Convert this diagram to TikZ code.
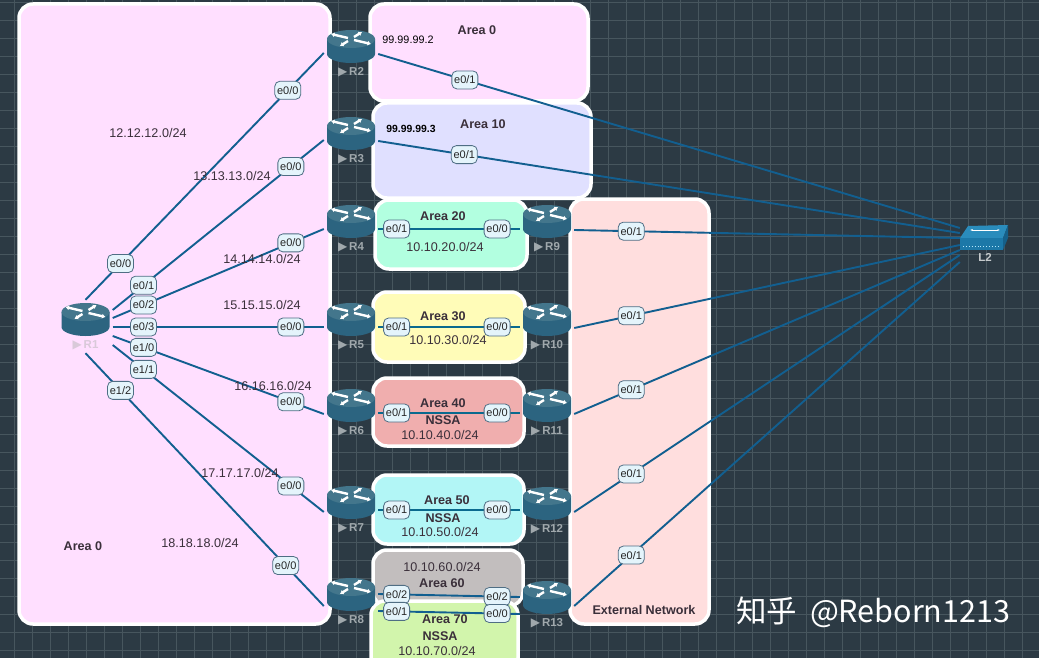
\documentclass[tikz,border=0pt]{standalone}
\usepackage{fontspec}
\setmainfont{Liberation Sans}
\newfontfamily\symfont{DejaVu Sans}
\newfontfamily\cjkfont{Noto Sans CJK SC}
\usetikzlibrary{arrows.meta}
\definecolor{bgc}{HTML}{2C3A44}
\definecolor{gridc}{HTML}{47565E}
\definecolor{linkc}{HTML}{125F90}
\definecolor{teal}{HTML}{0A6A8E}
\definecolor{pill}{HTML}{E4F4FB}
\definecolor{pilld}{HTML}{4F6E84}
\definecolor{rtop}{HTML}{43768C}
\definecolor{rbody}{HTML}{2C6480}
\definecolor{txt}{HTML}{3A2F3A}
\definecolor{rgrey}{HTML}{A0A8AC}
\definecolor{rlight}{HTML}{D9C9D9}
\definecolor{swtop}{HTML}{2A8CBC}
\definecolor{swfront}{HTML}{1C78A8}
\definecolor{swside}{HTML}{15608A}
\tikzset{
  area/.style={draw=white,line width=3.5pt,rounded corners=14pt},
  link/.style={draw=linkc,line width=1.9pt},
  tlink/.style={draw=teal,line width=2pt},
  pl/.style={draw=pilld,fill=pill,line width=0.8pt,rounded corners=5pt,inner sep=0pt,minimum width=26pt,minimum height=18pt,font=\fontsize{11}{12}\selectfont,text=black!85},
  net/.style={font=\fontsize{12.6}{14}\selectfont,text=txt,inner sep=0pt,yshift=-0.7pt},
  atitle/.style={font=\bfseries\fontsize{12.6}{14}\selectfont,text=txt,inner sep=0pt,yshift=-0.7pt},
  ipt/.style={font=\fontsize{10.8}{12}\selectfont,text=black,inner sep=0pt},
  rnode/.style={minimum width=54pt,minimum height=40pt,inner sep=0pt},
  rlab/.style={font=\bfseries\fontsize{11.5}{12}\selectfont,text=#1,inner sep=0pt},
  rarrow/.style={draw=white,line width=2.4pt,-{Latex[length=3.5pt,width=5pt]}},
  routerpic/.pic={
    \fill[rbody] (-24,-8) -- (-24,7) arc[start angle=180,end angle=0,x radius=24,y radius=9] -- (24,-8) -- cycle;
    \fill[rtop] (0,-8) ellipse[x radius=24,y radius=9];
    \draw[rarrow] (-3,-9) -- (-20,-13);
    \draw[rarrow] (3,-10) -- (11,-15);
    \draw[rarrow] (3,-7) -- (20,-3);
    \draw[rarrow] (-3,-6) -- (-11,-1);
  },
}
\newcommand{\routerat}[4]{% name, x, y, label colour
  \node[rnode] (#1) at (#2,#3) {};
  \pic at (#1) {routerpic};
  \node[rlab=#4] (#1L) at (#2,#3+25) {{\symfont\fontsize{12}{12}\selectfont ▶}\,#1};
}
\begin{document}
\begin{tikzpicture}[x=1pt,y=-1pt]
\useasboundingbox (0,0) rectangle (1039,658);
\clip (0,0) rectangle (1039,658);
\fill[bgc] (0,0) rectangle (1039,658);
\foreach \g in {14.7,32.7,...,1039} \draw[gridc,line width=0.6pt] (\g,0) -- (\g,658);
\foreach \g in {2,20,...,658} \draw[gridc,line width=0.6pt] (0,\g) -- (1039,\g);
% areas
\draw[area,fill={rgb,255:red,255;green,223;blue,255}] (19,4) rectangle (330,624);
\draw[area,fill={rgb,255:red,255;green,223;blue,255}] (370,4) rectangle (588,101);
\draw[area,fill={rgb,255:red,224;green,224;blue,255}] (373,103) rectangle (591,198);
\draw[area,fill={rgb,255:red,178;green,255;blue,224}] (375,200) rectangle (527,269);
\draw[area,fill={rgb,255:red,255;green,252;blue,184}] (373,292) rectangle (525,362);
\draw[area,fill={rgb,255:red,240;green,174;blue,174}] (373,378) rectangle (524,446);
\draw[area,fill={rgb,255:red,178;green,246;blue,246}] (373,475) rectangle (524,544);
\draw[area,fill={rgb,255:red,194;green,190;blue,190}] (373,550) rectangle (523,606);
\draw[area,fill={rgb,255:red,210;green,245;blue,172}] (371,601) rectangle (518,672);
\draw[area,fill={rgb,255:red,255;green,222;blue,222}] (570,199) rectangle (709,624);
% routers
\routerat{R1}{85.5}{320}{rlight}
\routerat{R2}{351}{47}{rgrey}
\routerat{R3}{351}{134}{rgrey}
\routerat{R4}{351}{222}{rgrey}
\routerat{R5}{351}{320}{rgrey}
\routerat{R6}{351}{406}{rgrey}
\routerat{R7}{351}{503}{rgrey}
\routerat{R8}{351}{595}{rgrey}
\routerat{R9}{547}{222}{rgrey}
\routerat{R10}{547}{320}{rgrey}
\routerat{R11}{547}{406}{rgrey}
\routerat{R12}{547}{504}{rgrey}
\routerat{R13}{547}{598}{rgrey}
% switch
\node[minimum width=48pt,minimum height=26pt,inner sep=0pt] (L2) at (984,238) {};
\fill[swtop] (968,226) -- (1008,225) -- (1003,238) -- (960,238) -- cycle;
\fill[swfront] (960,238) rectangle (1003,250);
\fill[swside] (1003,238) -- (1008,225) -- (1008,238) -- (1003,250) -- cycle;
\draw[white,line width=1pt,{Latex[length=2.5pt]}-{Latex[length=2.5pt]}] (970,230) -- (1000,230);
\draw[white!70!cyan,line width=0.9pt,dotted] (963,246) -- (998,246);
\node[font=\fontsize{11.5}{12}\selectfont\bfseries,text=rgrey!60!white,inner sep=0pt] (L2L) at (985,257) {L2};
% links from R1
\draw[link] (R1.north) -- node[pos=.147,pl]{e0/0} node[pos=.849,pl]{e0/0} ([yshift=-6pt]R2.west);
\draw[link] ([yshift=10pt]R1.east) -- node[pos=.146,pl]{e0/1} node[pos=.844,pl]{e0/0} ([yshift=-6pt]R3.west);
\draw[link] ([yshift=2pt]R1.east) -- node[pos=.146,pl]{e0/2} node[pos=.844,pl]{e0/0} ([yshift=-7pt]R4.west);
\draw[link] ([yshift=-7pt]R1.east) -- node[pos=.146,pl]{e0/3} node[pos=.844,pl]{e0/0} ([yshift=-7pt]R5.west);
\draw[link] ([yshift=-16pt]R1.east) -- node[pos=.146,pl]{e1/0} node[pos=.844,pl]{e0/0} ([yshift=-8pt]R6.west);
\draw[link] ([yshift=-25pt]R1.east) -- node[pos=.146,pl]{e1/1} node[pos=.844,pl]{e0/0} ([yshift=-9pt]R7.west);
\draw[link] ([yshift=-13pt]R1.south) -- node[pos=.147,pl]{e1/2} node[pos=.84,pl]{e0/0} ([yshift=-11pt]R8.west);
% links to L2
\draw[link] ([yshift=-7pt]R2.east) -- node[pos=.149,pl]{e0/1} ([yshift=10pt]L2.west);
\draw[link] ([yshift=-7pt]R3.east) -- node[pos=.148,pl]{e0/1} ([yshift=5pt]L2.west);
\draw[link] ([yshift=-8pt]R9.east) -- node[pos=.148,pl]{e0/1} (L2.west);
\draw[link] ([yshift=-8pt]R10.east) -- node[pos=.148,pl]{e0/1} ([yshift=-7pt]L2.west);
\draw[link] ([yshift=-8pt]R11.east) -- node[pos=.148,pl]{e0/1} ([yshift=-12pt]L2.west);
\draw[link] ([yshift=-8pt]R12.east) -- node[pos=.148,pl]{e0/1} ([yshift=-17pt]L2.west);
\draw[link] ([yshift=-8pt]R13.east) -- node[pos=.148,pl]{e0/1} ([yshift=-24pt]L2.west);
% links across areas
\draw[tlink] ([yshift=-7pt]R4.east) -- node[pos=.13,pl]{e0/1} node[pos=.84,pl]{e0/0} ([yshift=-7pt]R9.west);
\draw[tlink] ([yshift=-7pt]R5.east) -- node[pos=.13,pl]{e0/1} node[pos=.84,pl]{e0/0} ([yshift=-7pt]R10.west);
\draw[tlink] ([yshift=-7pt]R6.east) -- node[pos=.13,pl]{e0/1} node[pos=.84,pl]{e0/0} ([yshift=-7pt]R11.west);
\draw[tlink] ([yshift=-7pt]R7.east) -- node[pos=.13,pl]{e0/1} node[pos=.84,pl]{e0/0} ([yshift=-6pt]R12.west);
\draw[link] ([yshift=1pt]R8.east) -- node[pos=.13,pl]{e0/2} node[pos=.84,pl]{e0/2} ([yshift=1pt]R13.west);
\draw[link] ([yshift=-16pt]R8.east) -- node[pos=.13,pl]{e0/1} node[pos=.84,pl]{e0/0} ([yshift=-16pt]R13.west);
% texts
\node[net] (n12) at (148,132) {12.12.12.0/24};
\node[net] (n13) at (232,175) {13.13.13.0/24};
\node[net] (n14) at (262,258) {14.14.14.0/24};
\node[net] (n15) at (262,304) {15.15.15.0/24};
\node[net] (n16) at (273,385) {16.16.16.0/24};
\node[net] (n17) at (240,472) {17.17.17.0/24};
\node[net] (n18) at (200,542) {18.18.18.0/24};
\node[atitle] (a0l) at (83,545) {Area 0};
\node[atitle] (a0) at (477,29) {Area 0};
\node[ipt] (ip2) at (408,40) {99.99.99.2};
\node[atitle] (a10) at (483,123) {Area 10};
\node[ipt,font=\bfseries\fontsize{10.4}{12}\selectfont] (ip3) at (411,129) {99.99.99.3};
\node[atitle] (a20) at (443,215) {Area 20};
\node[net] (n20) at (445,246) {10.10.20.0/24};
\node[atitle] (a30) at (443,315) {Area 30};
\node[net] (n30) at (448,339) {10.10.30.0/24};
\node[atitle] (a40) at (443,402) {Area 40};
\node[atitle] (s40) at (443,419) {NSSA};
\node[net] (n40) at (440,434) {10.10.40.0/24};
\node[atitle] (a50) at (447,499) {Area 50};
\node[atitle] (s50) at (443,517) {NSSA};
\node[net] (n50) at (440,531) {10.10.50.0/24};
\node[net] (n60) at (442,566) {10.10.60.0/24};
\node[atitle] (a60) at (442,582) {Area 60};
\node[atitle] (a70) at (445,618) {Area 70};
\node[atitle] (s70) at (440,635) {NSSA};
\node[net] (n70) at (437,650) {10.10.70.0/24};
\node[atitle] (ext) at (644,609) {External Network};
% watermark
\node[anchor=west,inner sep=0pt,text=white,font=\cjkfont\fontsize{30.5}{34}\selectfont] (wm) at (736,612) {知乎\hspace{6pt} @Reborn1213};
\end{tikzpicture}
\end{document}
